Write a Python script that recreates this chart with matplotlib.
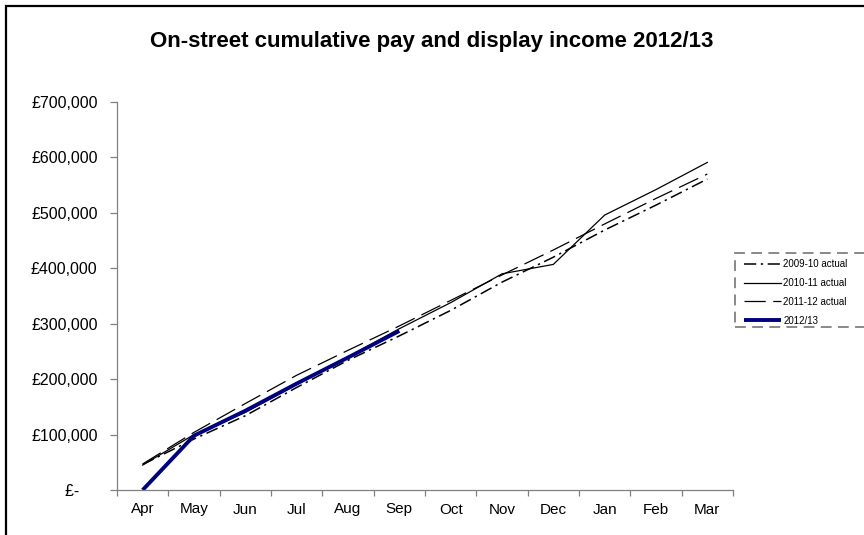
import matplotlib
matplotlib.use("Agg")
import matplotlib.pyplot as plt
from matplotlib.patches import Rectangle
from matplotlib.ticker import FuncFormatter, FixedLocator

months = ["Apr", "May", "Jun", "Jul", "Aug", "Sep", "Oct", "Nov", "Dec", "Jan", "Feb", "Mar"]
income_2009_10 = [46000, 92000, 134000, 185000, 234000, 278000, 324000, 375000, 420000, 469000, 514000, 561000]
income_2010_11 = [45000, 100000, 140000, 190000, 240000, 291000, 338000, 390000, 407000, 496000, 542000, 591000]
income_2011_12 = [47000, 104000, 156000, 207000, 252000, 296000, 342000, 388000, 433000, 480000, 526000, 570000]
income_2012_13 = [0, 98000, 143000, 192000, 239000, 287000]
series_labels = ["2009-10 actual", "2010-11 actual", "2011-12 actual", "2012/13"]
y_ticks = [0, 100000, 200000, 300000, 400000, 500000, 600000, 700000]

plt.rcParams['font.family'] = ['Liberation Sans', 'DejaVu Sans']

W, H = 864, 535
fig = plt.figure(figsize=(W / 100, H / 100), dpi=100)
ax = fig.add_axes([117 / W, (H - 490) / H, (733 - 117) / W, (490 - 102) / H])

x = list(range(len(months)))
l1, = ax.plot(x, income_2009_10, color='black', lw=1.1, linestyle=(0, (8, 3, 1.5, 3)))
l2, = ax.plot(x, income_2010_11, color='black', lw=0.9, linestyle='-')
l3, = ax.plot(x, income_2011_12, color='black', lw=0.9, linestyle=(0, (17, 6)))
l4, = ax.plot(x[:len(income_2012_13)], income_2012_13, color='#000080', lw=2.8, solid_capstyle='butt')

ax.set_xlim(-0.5, len(months) - 0.5)
ax.set_ylim(0, 700000)

# category boundaries as major ticks, labels on minor ticks
ax.xaxis.set_major_locator(FixedLocator([i - 0.5 for i in range(len(months) + 1)]))
ax.xaxis.set_minor_locator(FixedLocator(x))
ax.set_xticklabels([])
ax.set_xticklabels(months, minor=True)
ax.tick_params(axis='x', which='major', direction='out', length=4, width=0.9, color='#808080')
ax.tick_params(axis='x', which='minor', length=0, pad=9, labelsize=11)

ax.set_yticks(y_ticks)
def fmt(v, pos):
    if v == 0:
        return "£-    "
    return "£{:,.0f}".format(v)
ax.yaxis.set_major_formatter(FuncFormatter(fmt))
ax.tick_params(axis='y', direction='out', length=5, width=0.9, color='#808080', pad=9, labelsize=11.5)

for s in ['top', 'right']:
    ax.spines[s].set_visible(False)
for s in ['left', 'bottom']:
    ax.spines[s].set_color('#808080')
    ax.spines[s].set_linewidth(0.9)

fig.text(432 / W, 1 - 42 / H, "On-street cumulative pay and display income 2012/13",
         ha='center', va='center', fontsize=16, fontweight='bold')

# legend
leg = fig.legend([l1, l2, l3, l4], series_labels, loc='upper left',
                 bbox_to_anchor=(744 / W, 1 - 259 / H), frameon=False,
                 fontsize=7, handlelength=3.8, handletextpad=0.25,
                 labelspacing=0.92, borderpad=0, borderaxespad=0)
fig.add_artist(Rectangle((735 / W, (H - 327) / H), 140 / W, 74 / H,
                         transform=fig.transFigure, fill=False,
                         edgecolor='#808080', lw=1.3, linestyle=(0, (6, 3.5)),
                         clip_on=False))

# chart border
fig.add_artist(Rectangle((6 / W, -0.05), 1.0, 1 - 6 / H + 0.05,
                         transform=fig.transFigure, fill=False,
                         edgecolor='black', lw=1.6, clip_on=False))

fig.savefig("out.png", dpi=100)
